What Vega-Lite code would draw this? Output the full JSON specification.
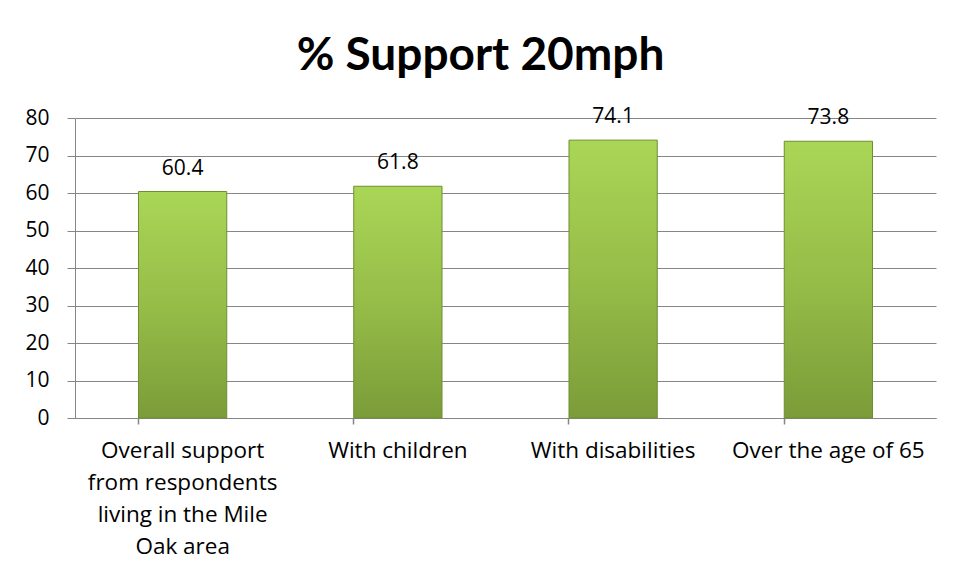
{
  "$schema": "https://vega.github.io/schema/vega-lite/v6.json",
  "width": 861,
  "height": 300,
  "autosize": "none",
  "padding": {"left": 75, "top": 118, "right": 17, "bottom": 161},
  "background": "white",
  "title": {
    "text": "% Support 20mph",
    "font": "Lato",
    "fontSize": 46,
    "fontWeight": "bold",
    "color": "black",
    "anchor": "middle",
    "frame": "bounds",
    "offset": 26
  },
  "data": {
    "values": [
      {"group": "Overall support from respondents living in the Mile Oak area", "support": 60.4},
      {"group": "With children", "support": 61.8},
      {"group": "With disabilities", "support": 74.1},
      {"group": "Over the age of 65", "support": 73.8}
    ]
  },
  "encoding": {
    "x": {
      "field": "group",
      "type": "nominal",
      "sort": null,
      "scale": {"paddingInner": 0.59, "paddingOuter": 0.295}
    },
    "y": {
      "field": "support",
      "type": "quantitative",
      "scale": {"domain": [0, 80], "nice": false},
      "axis": {
        "title": null,
        "values": [0, 10, 20, 30, 40, 50, 60, 70, 80],
        "grid": true,
        "gridColor": "#868686",
        "gridWidth": 1,
        "domainColor": "#868686",
        "tickColor": "#868686",
        "tickSize": 8,
        "labelPadding": 18,
        "labelFont": "Open Sans",
        "labelFontSize": 21,
        "labelColor": "black"
      }
    }
  },
  "layer": [
    {
      "mark": {
        "type": "bar",
        "stroke": "#6f8f30",
        "strokeWidth": 1,
        "color": {
          "gradient": "linear",
          "x1": 0, "y1": 0, "x2": 0, "y2": 1,
          "stops": [
            {"offset": 0, "color": "#aad657"},
            {"offset": 0.5, "color": "#96bd48"},
            {"offset": 1, "color": "#7b9c39"}
          ]
        }
      },
      "encoding": {
        "x": {
          "field": "group",
          "type": "nominal",
          "sort": null,
          "axis": {
            "title": null,
            "orient": "bottom",
            "bandPosition": 0,
            "labels": false,
            "domain": true,
            "domainColor": "#868686",
            "ticks": true,
            "tickColor": "#868686",
            "tickSize": 6,
            "tickWidth": 1.5
          }
        }
      }
    },
    {
      "mark": {
        "type": "text",
        "font": "Open Sans",
        "fontSize": 21,
        "color": "black",
        "baseline": "bottom",
        "dy": -13
      },
      "encoding": {
        "x": {
          "field": "group",
          "type": "nominal",
          "sort": null,
          "axis": {
            "title": null,
            "orient": "bottom",
            "domain": false,
            "ticks": false,
            "labelAngle": 0,
            "labelPadding": 21,
            "labelBaseline": "top",
            "labelFont": "Open Sans",
            "labelFontSize": 22.5,
            "labelLineHeight": 32,
            "labelColor": "black",
            "labelLimit": 0,
            "labelExpr": "datum.value == 'Overall support from respondents living in the Mile Oak area' ? ['Overall support', 'from respondents', 'living in the Mile', 'Oak area'] : datum.value"
          }
        },
        "text": {"field": "support", "type": "quantitative", "format": ".1f"}
      }
    }
  ],
  "resolve": {"axis": {"x": "independent"}},
  "config": {"view": {"stroke": null}}
}
